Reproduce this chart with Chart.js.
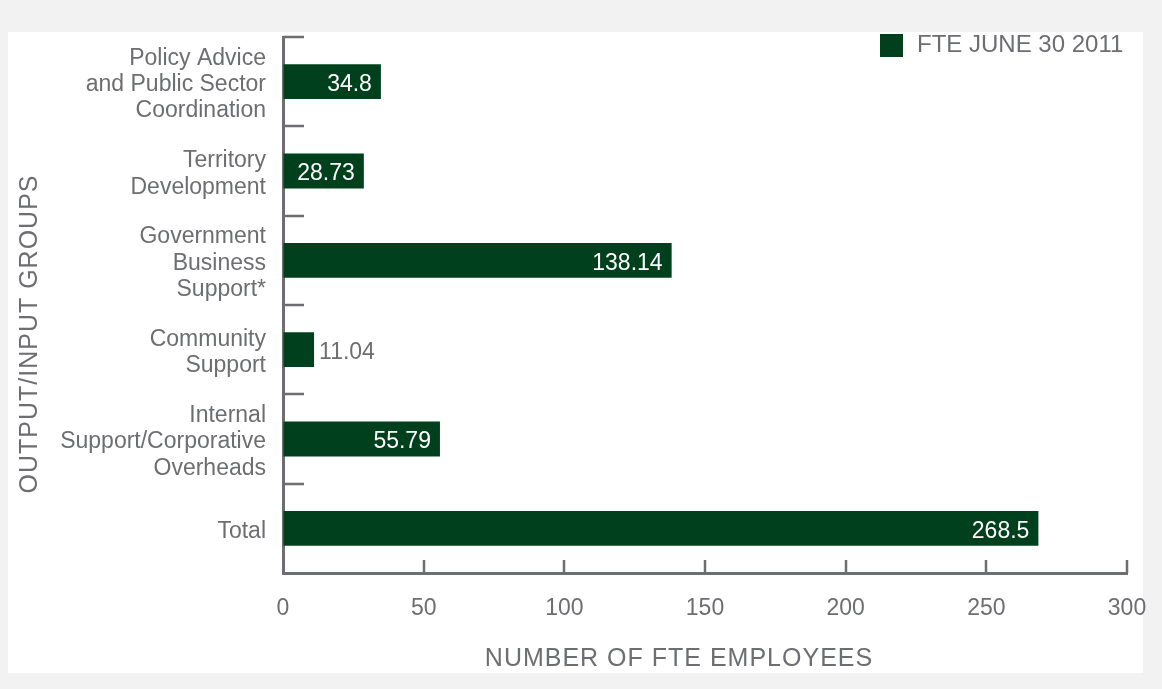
<!DOCTYPE html>
<html>
<head>
<meta charset="utf-8">
<script src="https://cdn.jsdelivr.net/npm/chart.js@4.4.0/dist/chart.umd.min.js"></script>
<style>
  html, body { margin: 0; padding: 0; background: #f1f2f1; }
  #panel { position: absolute; left: 8px; top: 32px; width: 1135px; height: 641px; background: #fff; }
  #wrap { position: absolute; left: 0; top: 0; width: 1162px; height: 689px; }
</style>
</head>
<body>
<div id="panel"></div>
<div id="wrap"><canvas id="fteChart" width="1162" height="689"></canvas></div>
<script>
var groups = [
    ['Policy Advice', 'and Public Sector', 'Coordination'],
    ['Territory', 'Development'],
    ['Government', 'Business', 'Support*'],
    ['Community', 'Support'],
    ['Internal', 'Support/Corporative', 'Overheads'],
    'Total'
];
var fteJune2011 = [34.8, 28.73, 138.14, 11.04, 55.79, 268.5];
var fteTicks = [0, 50, 100, 150, 200, 250, 300];
var seriesName = 'FTE JUNE 30 2011';
var xTitle = 'NUMBER OF FTE EMPLOYEES';
var yTitle = 'OUTPUT/INPUT GROUPS';

var barGreen = '#00401c';
var textGray = '#6d6e71';
var fontFamily = '"Liberation Sans", Arial, sans-serif';

// tick marks point into the plot, not out of it
var innerTicks = {
    id: 'innerTicks',
    afterDraw: function (chart) {
        var ctx = chart.ctx;
        var x = chart.scales.x, y = chart.scales.y;
        var area = chart.chartArea;
        var step = y.getPixelForTick(1) - y.getPixelForTick(0);
        ctx.save();
        ctx.strokeStyle = textGray;
        ctx.lineWidth = 2.5;
        ctx.beginPath();
        for (var i = 0; i < groups.length; i++) {
            var py = Math.round(y.getPixelForTick(i) - step / 2);
            ctx.moveTo(area.left, py);
            ctx.lineTo(area.left + 21, py);
        }
        fteTicks.forEach(function (v) {
            if (v === 0) return;
            var px = Math.round(x.getPixelForValue(v));
            ctx.moveTo(px, area.bottom);
            ctx.lineTo(px, area.bottom - 13);
        });
        ctx.stroke();
        ctx.restore();
    }
};

// value on each bar: inside in white when it fits, else just past the end
var barValues = {
    id: 'barValues',
    afterDatasetsDraw: function (chart) {
        var ctx = chart.ctx;
        var meta = chart.getDatasetMeta(0);
        ctx.save();
        ctx.font = '23px ' + fontFamily;
        ctx.textBaseline = 'middle';
        meta.data.forEach(function (bar, i) {
            var txt = String(fteJune2011[i]);
            var w = ctx.measureText(txt).width;
            if (bar.x - bar.base > w + 14) {
                ctx.fillStyle = '#ffffff';
                ctx.textAlign = 'right';
                ctx.fillText(txt, bar.x - 9, bar.y + 3);
            } else {
                ctx.fillStyle = textGray;
                ctx.textAlign = 'left';
                ctx.fillText(txt, bar.x + 5, bar.y + 3);
            }
        });
        ctx.restore();
    }
};

// axis titles and the one-entry legend
var decorations = {
    id: 'decorations',
    afterDraw: function (chart) {
        var ctx = chart.ctx;
        ctx.save();
        ctx.fillStyle = textGray;
        ctx.textBaseline = 'middle';

        ctx.font = '25px ' + fontFamily;
        ctx.letterSpacing = '1px';
        ctx.textAlign = 'center';
        ctx.fillText(xTitle, 679, 659);

        ctx.save();
        ctx.translate(30, 334);
        ctx.rotate(-Math.PI / 2);
        ctx.fillText(yTitle, 0, 0);
        ctx.restore();

        ctx.letterSpacing = '0px';
        ctx.font = '24px ' + fontFamily;
        ctx.fillStyle = barGreen;
        ctx.fillRect(880, 34, 23, 23);
        ctx.fillStyle = textGray;
        ctx.textAlign = 'left';
        ctx.fillText(seriesName, 917, 45);
        ctx.restore();
    }
};

var ctx = document.getElementById('fteChart').getContext('2d');
var chart = new Chart(ctx, {
    type: 'bar',
    data: {
        labels: groups,
        datasets: [{
            label: seriesName,
            data: fteJune2011,
            backgroundColor: barGreen,
            categoryPercentage: 1,
            barPercentage: 0.39
        }]
    },
    options: {
        indexAxis: 'y',
        responsive: false,
        animation: false,
        layout: { padding: { left: 8, top: 37, right: 35, bottom: 16 } },
        plugins: {
            legend: { display: false },
            tooltip: { enabled: false }
        },
        scales: {
            x: {
                min: 0,
                max: 300,
                afterBuildTicks: function (scale) {
                    scale.ticks = fteTicks.map(function (v) { return { value: v }; });
                },
                afterFit: function (scale) {
                    scale.height = 100;
                    scale.paddingLeft = 0;
                    scale.paddingRight = 0;
                },
                ticks: {
                    color: textGray,
                    font: { family: fontFamily, size: 23 },
                    padding: 22,
                    maxRotation: 0
                },
                grid: { drawOnChartArea: false, drawTicks: false },
                border: { display: true, color: textGray, width: 3 }
            },
            y: {
                afterFit: function (scale) {
                    scale.width = 275;
                    scale.paddingTop = 0;
                    scale.paddingBottom = 0;
                },
                ticks: {
                    color: textGray,
                    font: { family: fontFamily, size: 23, lineHeight: 1.15 },
                    padding: 17,
                    labelOffset: 3
                },
                grid: { drawOnChartArea: false, drawTicks: false },
                border: { display: true, color: textGray, width: 3 }
            }
        }
    },
    plugins: [innerTicks, barValues, decorations]
});
</script>
</body>
</html>
